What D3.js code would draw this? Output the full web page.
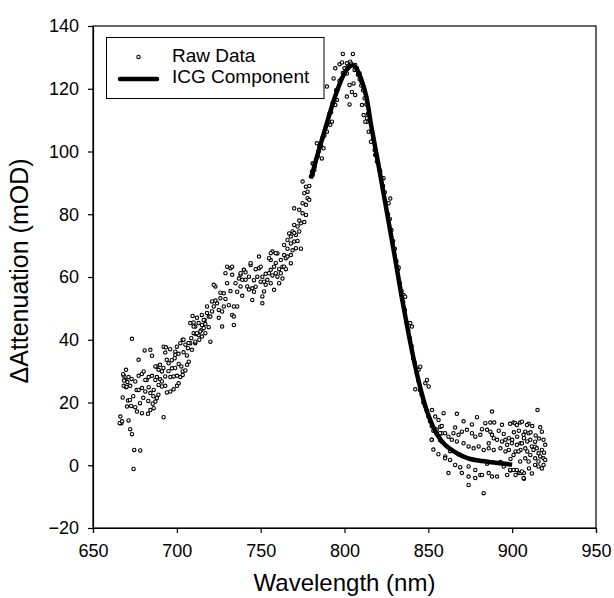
<!DOCTYPE html>
<html>
<head>
<meta charset="utf-8">
<script src="https://cdn.jsdelivr.net/npm/d3@7"></script>
<style>
  html, body { margin: 0; padding: 0; background: #fff; }
  svg { display: block; font-family: 'Liberation Sans', Arial, sans-serif; }
</style>
</head>
<body>
<div id="chart"></div>
<script>
// axis ticks
const xTicks = [650, 700, 750, 800, 850, 900, 950]
const yTicks = [-20, 0, 20, 40, 60, 80, 100, 120, 140]

// ICG component fit (nm, mOD)
const icgNm = [780, 785, 790, 795, 800, 803, 805, 807, 810, 813, 816, 820, 823, 826, 830, 834, 838, 842, 846, 850, 855, 860, 865, 870, 875, 880, 890, 900]
const icgMod = [91.5, 101, 110, 118.5, 125, 127, 127.5, 126.5, 123, 117.5, 108, 96.5, 87.5, 78.5, 66.5, 54, 42.5, 32, 23, 16, 10, 6.5, 4.5, 3, 2, 1.5, 0.8, 0.2]

// raw data, [nm, mOD]
const rawLeft = [
  [673.2, 40.3], [674.2, -1.2], [674.6, 4.9], [678.2, 4.7], [672.2, 11.5], [673.2, 9.9], [666.3, 15.5], [666.9, 13.4], [671.2, 14.3], [692.1, 15.3],
  [665.9, 13.4], [667.3, 14], [669.7, 30.4], [668.3, 28.5], [669.3, 27.2], [671.2, 28.1], [668.3, 25.3], [669.7, 24.9], [668, 29], [670, 25],
  [667.7, 21.6], [670.9, 20.6], [670.3, 18.7], [672.8, 18.9], [675.2, 18.5], [676.2, 17.1], [679.2, 16.6], [682.8, 16.4], [684.2, 17.6], [686.2, 18.2],
  [687.2, 20.3], [688.1, 21.4], [685.6, 19.6], [672, 20.8], [678, 19.8], [676, 24], [682, 27.2], [688, 31.5], [694, 33.6], [700, 37.8],
  [672.2, 25.3], [675.2, 26.7], [677.2, 24], [679.2, 24.6], [681.2, 23.5], [683.2, 24.9], [684.2, 23], [686.2, 24], [687.2, 27.2], [689.1, 25.6],
  [691.1, 25.1], [693.1, 25.3], [694.1, 23.2], [696.1, 23.5], [698.1, 24.2], [700.1, 25.3], [701.1, 26.1],
  [677.2, 28.5], [679.2, 29.1], [680.2, 29.9], [681.2, 27.2], [683.2, 28.1], [685.2, 28.5], [688.1, 28.1], [690.1, 27.4], [691.1, 26.7], [693.1, 28.3],
  [696.1, 28.1], [698.1, 28.3], [700.1, 28.5], [702.1, 28.1], [703.5, 28.8],
  [677.2, 33.6], [680.8, 36.6], [684.2, 36.8], [685.2, 34.9], [687.2, 31.5], [689.1, 30.4], [691.1, 29.9], [692.1, 37.8], [693.5, 37.6], [693.1, 35.9],
  [695.1, 32.5], [697.1, 30.9], [698.7, 34.1], [699.1, 36.2], [701.1, 32.3], [702.7, 31.5], [703.5, 29.9], [705.1, 30.2], [706.1, 32], [707.1, 33],
  [699.1, 35.2], [702.1, 38.9], [703.5, 40], [705.1, 38.4], [706.6, 37.3], [708, 38.9], [708.6, 40.5], [710, 42.1], [711.4, 41.8], [713, 41.5],
  [714.6, 43.1], [715.4, 44.7], [711, 44.2], [709.4, 47.6], [714.9, 47.9], [716.6, 46.3], [713.4, 40], [711, 38.9], [704, 40], [708, 45.3],
  [668.5, 27], [670.5, 26.5], [673, 27.5], [674, 22], [680, 21.5], [683, 20.5], [686, 22], [689, 22.5], [690, 32], [692, 31], [695, 30],
  [697, 33.5], [699, 31], [696, 37], [701, 35.5], [704, 36], [706, 35], [707, 39]
]

const rawMid = [
  [709, 36.8], [711, 39.4], [712, 42.1], [714, 42.6], [715, 44.7], [710, 44.2], [716, 46.3], [719, 47.4], [720, 39.4], [717, 42.1], [713, 45.3],
  [722, 50.6], [721, 52.2], [724, 51.6], [725, 49.5], [727, 49], [728, 50.6], [726, 53.2], [728, 54.8], [723, 57], [730, 58], [732, 62.8],
  [729, 61.2], [733, 60.7], [734, 50.6], [733, 47.9], [736, 50.6], [734, 47.4], [727, 44.2], [720, 47.4], [716, 43.7], [718, 50.6], [722, 57.5],
  [730, 63.3], [733, 63.3], [734, 44.7], [738, 60.7], [740, 62.2],
  [738, 61.2], [740, 62.3], [739, 59.1], [741, 59.1], [738, 57], [736, 55.3], [742, 57], [743, 60.1], [744, 63.8], [745, 56.4], [746, 55.3],
  [747, 56.9], [748, 60.1], [749, 62.8], [750, 63.3], [751, 60.1], [752, 58.5], [751, 53.8], [752, 55.4], [754, 59.1], [755, 61.2], [756, 62.3],
  [758, 63.3], [759, 61.2], [760, 60.1], [762, 61.2], [763, 63.3], [761, 58], [758, 55.9], [756, 58], [753, 57.5], [745, 52.7], [751, 51.6],
  [749, 66.5], [744, 64.4], [756, 65.4], [760, 67.5], [757, 68.1], [755, 66], [762, 65.4], [765, 66], [766, 66.5], [768, 67], [764, 63.3],
  [768, 64.4], [756, 67.6], [759, 67.6], [764, 67], [774, 69],
  [764, 70.2], [766, 71.8], [768, 72.9], [767, 73.9], [769, 74.5], [771, 73.4], [770, 71.3], [772, 76.1], [773, 74.5], [774, 77.1], [770, 76.6],
  [771, 69.2], [768, 70.7], [770, 74],
  [770, 81.9], [773, 81.4], [775, 80.3], [777, 79.8], [775, 83.5], [776, 86.7], [778, 87.2], [777, 88.8], [778, 85.1], [779, 84.6], [775, 90.4],
  [781, 93.1], [782, 95.2], [781, 96.2], [782, 94.1], [780, 92],
  [710, 45.5], [712, 47], [715, 41], [717, 45], [718, 48.5], [719, 44], [721, 49], [723, 52.5], [725, 47], [726, 55], [729, 53], [731, 51],
  [732, 55.5], [735, 58], [737, 59.5], [739, 54], [741, 61.5], [743, 56], [746, 59], [747, 62.5], [750, 58.5], [753, 61], [757, 60.5],
  [759, 64.5], [761, 62.5], [763, 59.5], [765, 62.5], [766, 69], [769, 68.5], [772, 71.5], [773, 78], [776, 77.5], [777, 83], [779, 89]
]

const rawPeak = [
  [799, 131.1], [805, 131.1], [797, 127.8], [798.5, 128.4], [801.4, 128.1], [803.4, 128.6], [806.4, 127.6], [807.4, 126.5], [809, 124.9],
  [810, 122.3], [794.5, 126.5], [793.5, 123.3], [801.4, 124.9], [803, 121.2], [805.4, 121.7], [801.4, 117.5], [803, 115], [806.4, 118],
  [804.4, 119], [789.5, 120.7], [795.5, 116.4], [794.5, 114.8], [792.5, 109.5], [791.5, 108.5], [789.5, 106.3], [783.5, 102.6], [784.5, 100],
  [787.5, 101], [786.5, 97.8], [781.5, 96.2], [780.6, 93.6], [810.4, 114.8], [811.4, 111.6], [813.4, 109.5], [814.4, 106.3], [815.8, 103.1],
  [818.3, 98.9], [819.3, 96.8], [821.3, 93.6], [823.3, 91.5], [813.4, 110.6], [812.4, 109.5],
  [781, 92.5], [782, 95], [783, 97.5], [784, 98.5], [785, 101.5], [786, 102], [787, 104.5], [788, 105], [789, 108], [790, 109], [791, 112],
  [792, 112.5], [793, 115.5], [794, 116.5], [795, 119.5], [796, 120], [797, 122.5], [798, 123], [799, 125], [800, 126.5], [802, 127],
  [804, 128], [806, 126], [808, 124.5],
  [809, 123], [810, 121], [811, 119.5], [812, 117], [813, 115], [814, 112], [815, 110], [816, 106.5], [817, 104], [818, 100.5], [819, 99],
  [820, 96.5], [821, 94], [822, 91.5], [823, 89], [824, 87], [825, 83.5], [826, 80], [827, 78.5], [828, 75], [829, 71.5], [830, 69],
  [831, 65], [832, 62.5], [833, 58], [834, 55.5], [835, 52], [836, 49.5], [837, 45.5], [838, 43], [839, 40.5], [840, 38], [841, 34],
  [842, 32.5], [843, 29.5], [844, 27], [845, 24], [846, 22.5], [847, 20], [848, 19], [849, 17.5], [850, 15.5], [851, 14], [852, 12.5],
  [853, 11], [854, 11.5], [855, 10], [856, 9.5], [857, 8], [858, 7.5],
  [826.3, 83.5], [827.3, 85], [832.3, 63], [835.2, 54.3], [836.2, 53.7], [839.2, 45.3], [840.2, 44.2], [842.2, 24.2], [844.2, 30.4],
  [845.2, 31.4], [848.2, 26.1], [849.2, 27.2], [850.2, 25.1], [852.2, 17.6], [854.1, 15.5], [856.1, 14.4], [857.1, 12.3], [858.1, 10.2],
  [852.1, 8.1], [860.1, 2.8]
]

const rawTail = [
  [859.1, 16.6], [867, 16.4], [888, 17.1], [879, 15.3], [884, 13.4], [887, 13.6], [889.3, 13.6], [893.9, 12.9], [898.8, 13.2], [900.8, 13.6],
  [904.8, 13.6], [909.8, 13.2], [865, 10.2], [868, 9.7], [870, 10.7], [873, 11.3], [876, 10.2], [878, 9.1], [881, 9.7],
  [885, 11.3], [887, 10.7], [888, 9.7], [889, 8.6], [891, 8.1], [894, 7.6], [896, 8.1], [898, 8.6], [900, 8.1], [903, 9.1], [905, 7],
  [907, 8.6], [909, 7.6], [864, 8.1], [867, 7.6], [871, 7], [874, 6], [877, 5.4], [880, 6], [883, 4.9], [886, 5.4], [889, 4.9], [893, 5.4],
  [896, 4.4], [898, 4.9], [902, 4.4], [905, 4.9], [909, 4.4],
  [860, 2.2], [863, 1.7], [866, 0.1], [869, -0.6], [874, -0.4], [878, -1.5], [881, -3.1], [886, -2.5], [888, -3.6], [891, -3.6], [895, -0.4],
  [899, -1.7], [902, -3.1], [904, -2.5], [907, -2.5], [862, -2.5], [874, -3.6], [882, -3.1], [874, -6.3], [883, -8.9], [878, -4.1],
  [897, -3.1], [905, -2.5], [907, -4.3], [852, 8.1], [855, 11.3], [857, 10.2], [860, 10.2], [862, 9.1],
  [915.1, 17.6], [916.7, 12.1], [917.7, 10.7], [918.7, 8.1], [919.7, 6.5], [917.7, 4.9], [918.7, 2.2], [919.7, 1.7], [918.7, 0.1],
  [917.7, -1], [915.7, -0.4], [913.7, 0.1], [911.7, -2.6], [906.8, -4.1], [905.8, -2], [902.8, -1.5], [900.8, -1.5], [898.8, -1.5],
  [904.8, 1.2], [907.8, 2.2], [909.8, 1.2], [910.8, 3.3], [912.7, 4.9], [913.7, 5.9], [914.7, 5.4], [915.7, 3.8], [916.7, 2.8],
  [901.8, 13.4], [902.8, 12.8], [905.8, 13.9], [908.8, 12.8], [907.8, 10.7], [906.8, 9.7], [909.8, 10.2], [910.8, 8.1], [913.7, 7.5],
  [899.8, 7], [902.8, 6.5], [905.8, 7], [907.8, 5.4], [903.8, 4.4], [900.8, 3.3], [911.7, 6], [913.7, 2.2], [915.7, 1.2],
  [853, 5], [856, 3.5], [858, 12.5], [866, 12], [871, 14], [876, 13], [882, 11.5], [886, 7], [892, 11], [895, 10], [897, 6.5], [901, 10.5],
  [904, 11], [911, 10.5], [912, 12.5], [914, 9.5], [916, 8.5], [919, 4], [870, -2.5], [885, 0.5], [893, 1], [899, 2], [910, -1], [863, 4.5],
  [868, 3.5]
]

const width = 614
const height = 598
const margin = { top: 26, right: 18, bottom: 70, left: 93 }

const x = d3.scaleLinear().domain([650, 950]).range([margin.left, width - margin.right])
const y = d3.scaleLinear().domain([-20, 140]).range([height - margin.bottom, margin.top])

const svg = d3.select('#chart').append('svg').attr('width', width).attr('height', height)

// frame
svg
  .append('rect')
  .attr('x', x(650))
  .attr('y', y(140))
  .attr('width', x(950) - x(650))
  .attr('height', y(-20) - y(140))
  .attr('fill', 'none')
  .attr('stroke', '#000')
  .attr('stroke-width', 1.2)

const axisB = svg
  .append('g')
  .attr('transform', `translate(0 ${y(-20)})`)
  .call(d3.axisBottom(x).tickValues(xTicks).tickSize(5).tickPadding(11).tickFormat(d3.format('d')))
const axisL = svg
  .append('g')
  .attr('transform', `translate(${x(650)} 0)`)
  .call(d3.axisLeft(y).tickValues(yTicks).tickSize(5).tickPadding(9).tickFormat(d3.format('d')))

;[axisB, axisL].forEach((a) => {
  a.select('.domain').attr('stroke-width', 1.2)
  a.selectAll('.tick line').attr('stroke-width', 1.2)
  a.selectAll('.tick text').attr('font-size', 18).attr('fill', '#000').attr('font-family', "'Liberation Sans', Arial, sans-serif")
})

// raw data circles
const raw = rawLeft.concat(rawMid, rawPeak, rawTail)
svg
  .append('g')
  .selectAll('circle')
  .data(raw)
  .enter()
  .append('circle')
  .attr('cx', (d) => x(d[0]))
  .attr('cy', (d) => y(d[1]))
  .attr('r', 1.7)
  .attr('fill', '#fff')
  .attr('stroke', '#000')
  .attr('stroke-width', 1.1)

// ICG fit line
const line = d3
  .line()
  .x((d, i) => x(icgNm[i]))
  .y((d) => y(d))
  .curve(d3.curveCatmullRom)
svg
  .append('path')
  .datum(icgMod)
  .attr('d', line)
  .attr('fill', 'none')
  .attr('stroke', '#000')
  .attr('stroke-width', 4.5)

// legend
const lg = svg.append('g')
lg.append('rect')
  .attr('x', 106.5)
  .attr('y', 37.5)
  .attr('width', 217.5)
  .attr('height', 61)
  .attr('fill', '#fff')
  .attr('stroke', '#000')
  .attr('stroke-width', 1)
lg.append('circle').attr('cx', 138.5).attr('cy', 57).attr('r', 1.7).attr('fill', '#fff').attr('stroke', '#000').attr('stroke-width', 1.1)
lg.append('line').attr('x1', 120).attr('x2', 157).attr('y1', 79).attr('y2', 79).attr('stroke', '#000').attr('stroke-width', 4.5).attr('stroke-linecap', 'round')
lg.append('text').attr('x', 172).attr('y', 62).attr('font-size', 19).text('Raw Data')
lg.append('text').attr('x', 172).attr('y', 83).attr('font-size', 19).text('ICG Component')

// axis titles
svg
  .append('text')
  .attr('x', (x(650) + x(950)) / 2)
  .attr('y', 591)
  .attr('text-anchor', 'middle')
  .attr('font-size', 24)
  .text('Wavelength (nm)')
svg
  .append('text')
  .attr('transform', `translate(28 271) rotate(-90)`)
  .attr('text-anchor', 'middle')
  .attr('font-size', 25)
  .text('ΔAttenuation (mOD)')
</script>
</body>
</html>
